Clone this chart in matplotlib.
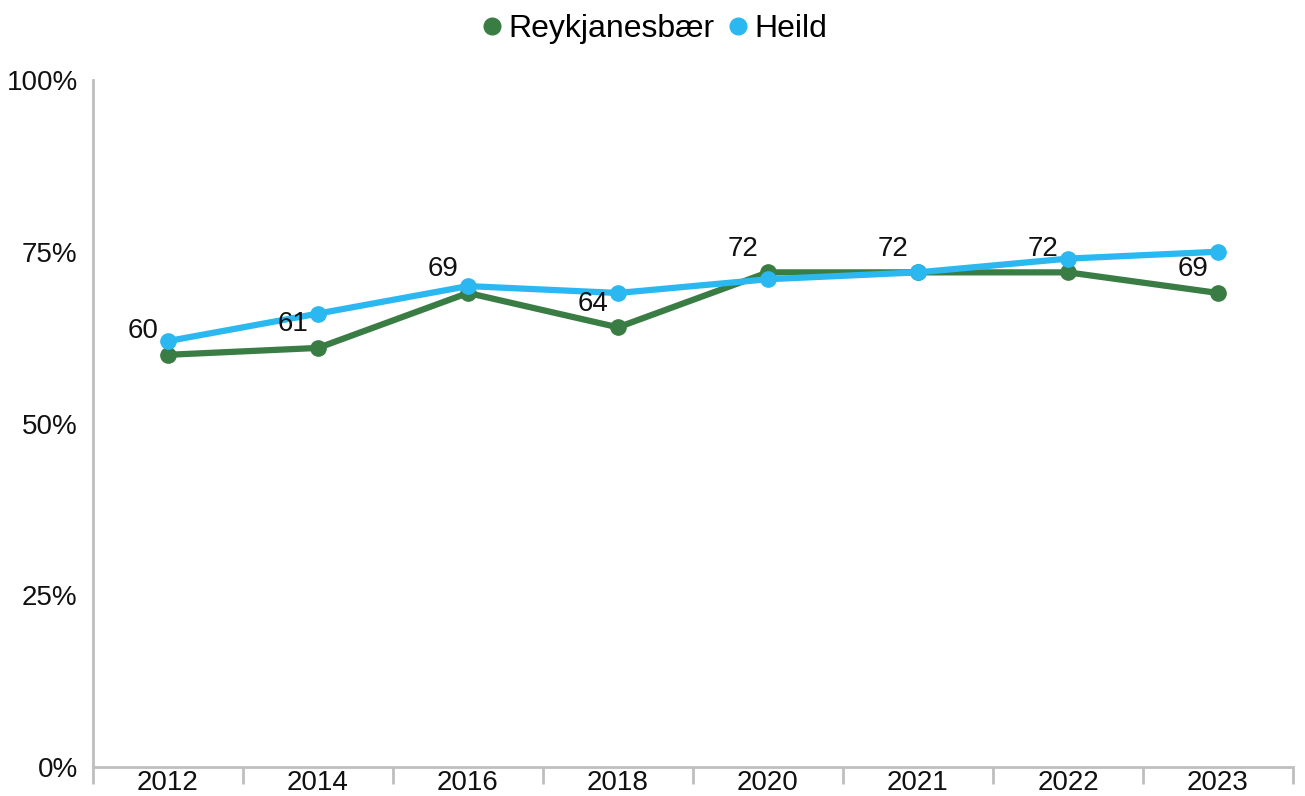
import matplotlib
matplotlib.use("Agg")
import matplotlib.pyplot as plt
from matplotlib.ticker import FixedLocator, NullFormatter
from matplotlib.lines import Line2D

years = ["2012", "2014", "2016", "2018", "2020", "2021", "2022", "2023"]
reykjanesbaer = [60, 61, 69, 64, 72, 72, 72, 69]
heild = [62, 66, 70, 69, 71, 72, 74, 75]
y_ticks = [0, 25, 50, 75, 100]
y_labels = ["0%", "25%", "50%", "75%", "100%"]

green = "#3a7d44"
blue = "#2bb8f0"
grey = "#bfbfbf"

plt.rcParams['font.family'] = ['Liberation Sans', 'DejaVu Sans']

fig = plt.figure(figsize=(13.05, 7.96), dpi=100)
ax = fig.add_axes([93/1305, 1 - 767/796, 1200/1305, 687/796])

x = list(range(len(years)))
ax.plot(x, reykjanesbaer, color=green, lw=4.5, marker="o", ms=11, zorder=3)
ax.plot(x, heild, color=blue, lw=4.5, marker="o", ms=11, zorder=4)

for xi, v in zip(x, reykjanesbaer):
    ax.annotate(str(v), (xi, v), xytext=(-18, 17), textcoords="offset points",
                ha="center", va="center", fontsize=20, color="#111111", zorder=5)

ax.set_xlim(-0.5, len(years) - 0.5)
ax.set_ylim(0, 100)
ax.set_yticks(y_ticks)
ax.set_yticklabels(y_labels, fontsize=20, color="#111111")
ax.tick_params(axis="y", length=0, pad=11)

ax.xaxis.set_major_locator(FixedLocator([i + 0.5 for i in range(-1, len(years))]))
ax.xaxis.set_major_formatter(NullFormatter())
ax.xaxis.set_minor_locator(FixedLocator(x))
ax.set_xticklabels(years, minor=True, fontsize=20, color="#111111")
ax.tick_params(axis="x", which="major", length=12, width=2, color=grey, direction="out")
ax.tick_params(axis="x", which="minor", length=0, pad=2)

for s in ["top", "right"]:
    ax.spines[s].set_visible(False)
for s in ["left", "bottom"]:
    ax.spines[s].set_color(grey)
    ax.spines[s].set_linewidth(2)

handles = [Line2D([], [], color=green, marker="o", ls="none", ms=12),
           Line2D([], [], color=blue, marker="o", ls="none", ms=12)]
fig.legend(handles, ["Reykjanesbær", "Heild"], loc="center", bbox_to_anchor=(0.5, 1 - 29/796),
           ncol=2, frameon=False, fontsize=23, handletextpad=0.05, columnspacing=0.3,
           handlelength=0.9)

fig.savefig("out.png", dpi=100, facecolor="white")
